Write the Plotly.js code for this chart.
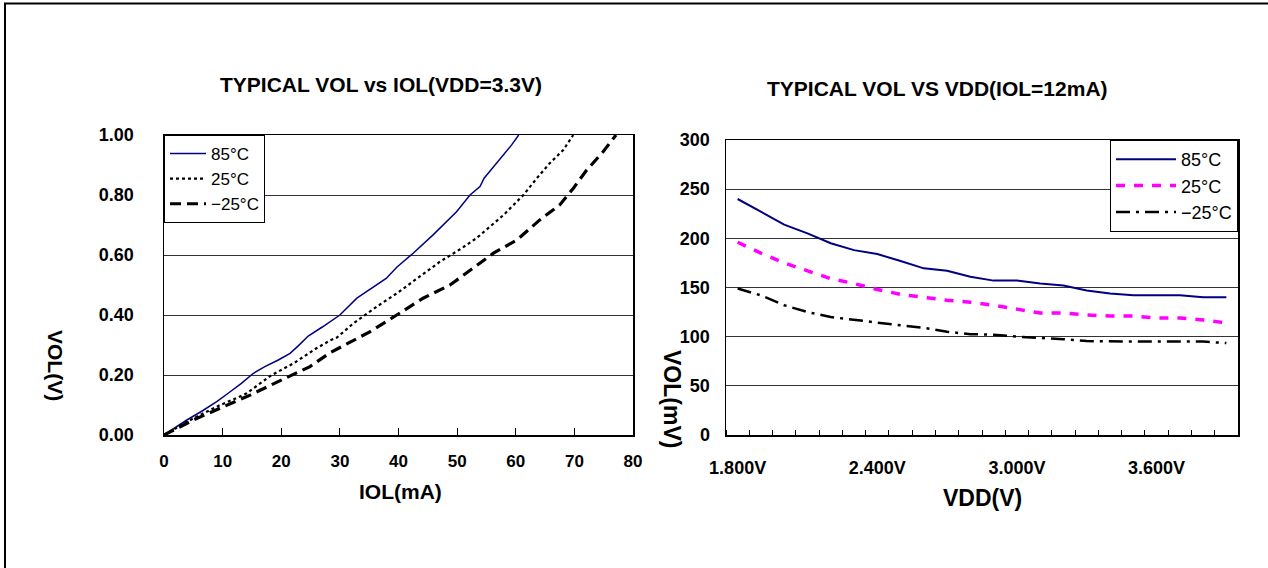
<!DOCTYPE html>
<html>
<head>
<meta charset="utf-8">
<script src="https://cdn.plot.ly/plotly-3.0.1.min.js"></script>
<style>html,body{margin:0;padding:0;background:#fff;}#chart{width:1268px;height:568px;}</style>
</head>
<body>
<div id="chart"></div>
<script>
// ---- Left chart: VOL vs IOL (VDD=3.3V) ----
const iol85 = [0, 1.5, 3.9, 6.5, 9.0, 11, 13.2, 15.2, 17.2, 19.5, 21.5, 22.9, 24.6, 27, 30, 32.9, 35.5, 37.9, 39.7, 42.5, 45.9, 49.9, 52.2, 53.9, 54.6, 56.7, 57.9, 59.3, 60.5];
const vol85 = [0, 0.02, 0.05, 0.08, 0.111, 0.14, 0.172, 0.205, 0.228, 0.25, 0.272, 0.297, 0.33, 0.36, 0.40, 0.456, 0.49, 0.522, 0.559, 0.606, 0.667, 0.744, 0.8, 0.828, 0.856, 0.906, 0.933, 0.967, 1.0];
const iol25 = [0, 3.9, 6.5, 9.6, 12, 14.1, 16.4, 18.4, 22.1, 26.0, 28.3, 29.5, 32.3, 36.3, 39.7, 43.1, 47.1, 50.5, 53.3, 57.9, 61.3, 63.6, 65.8, 68.1, 69.8];
const vol25 = [0, 0.044, 0.07, 0.1, 0.12, 0.139, 0.172, 0.2, 0.239, 0.289, 0.315, 0.325, 0.372, 0.428, 0.472, 0.522, 0.578, 0.619, 0.656, 0.733, 0.8, 0.856, 0.906, 0.95, 1.0];
const iolM25 = [0, 5.0, 10.1, 14.7, 20.0, 24.9, 28.3, 30.6, 35.1, 39.7, 44.2, 48.8, 52.2, 56.2, 60.2, 64.1, 67.5, 69.8, 72.1, 74.9, 77.1];
const volM25 = [0, 0.05, 0.094, 0.133, 0.183, 0.228, 0.274, 0.297, 0.344, 0.4, 0.456, 0.5, 0.55, 0.606, 0.65, 0.717, 0.767, 0.822, 0.883, 0.944, 1.0];

// ---- Right chart: VOL vs VDD (IOL=12mA) ----
const vdd = [1.8, 1.9, 2.0, 2.1, 2.2, 2.3, 2.4, 2.5, 2.6, 2.7, 2.8, 2.9, 3.0, 3.1, 3.2, 3.3, 3.4, 3.5, 3.6, 3.7, 3.8, 3.9];
const mv85 = [240, 227, 214, 205, 195, 188, 184, 177, 169.5, 167, 161, 157, 157, 154, 152, 147, 144, 142, 142, 142, 140, 140];
const mv25 = [196, 185, 175, 167, 159, 154, 148, 143, 140, 137, 135, 132, 128, 124, 124, 122, 121, 121, 119, 119, 117, 114];
const mvM25 = [149, 142, 132, 125, 120, 117, 114, 111.5, 109, 105, 102.5, 102, 100, 99, 97.5, 95.5, 95, 95, 95, 95, 95, 93.5];
const vddTickVals = [1.8, 2.4, 3.0, 3.6];
const vddTickText = ['1.800V', '2.400V', '3.000V', '3.600V'];

const seriesNames = ['85°C', '25°C', '\u221225°C'];

const FONT = 'Liberation Sans, Arial, sans-serif';
const W = 1268, H = 568;
const px = v => v / W;
const py = v => 1 - v / H;

const traces = [
  {x: iol85, y: vol85, name: seriesNames[0], mode: 'lines', line: {color: '#000080', width: 1.5}, xaxis: 'x', yaxis: 'y', legend: 'legend'},
  {x: iol25, y: vol25, name: seriesNames[1], mode: 'lines', line: {color: '#000', width: 2.2, dash: 'dot'}, xaxis: 'x', yaxis: 'y', legend: 'legend'},
  {x: iolM25, y: volM25, name: seriesNames[2], mode: 'lines', line: {color: '#000', width: 3.2, dash: '11px,6px'}, xaxis: 'x', yaxis: 'y', legend: 'legend'},
  {x: vdd, y: mv85, name: seriesNames[0], mode: 'lines', line: {color: '#000080', width: 2}, xaxis: 'x2', yaxis: 'y2', legend: 'legend2'},
  {x: vdd, y: mv25, name: seriesNames[1], mode: 'lines', line: {color: '#FF00FF', width: 3.5, dash: '9px,9px'}, xaxis: 'x2', yaxis: 'y2', legend: 'legend2'},
  {x: vdd, y: mvM25, name: seriesNames[2], mode: 'lines', line: {color: '#000', width: 2.5, dash: '14px,6px,3px,6px'}, xaxis: 'x2', yaxis: 'y2', legend: 'legend2'}
];

const axisCommon = {showline: true, mirror: true, linecolor: '#000', linewidth: 1.5, zeroline: false, fixedrange: true};

function label(text, x, y, size, angle) {
  return {text: text, x: px(x), y: py(y), xref: 'paper', yref: 'paper', xanchor: 'center', yanchor: 'middle',
          showarrow: false, textangle: angle || 0, font: {family: FONT, size: size, color: '#000', weight: 'bold'}};
}

const layout = {
  width: W, height: H,
  margin: {l: 0, r: 0, t: 0, b: 0, pad: 0},
  paper_bgcolor: '#fff', plot_bgcolor: '#fff',
  font: {family: FONT, color: '#000'},
  showlegend: true,
  xaxis: Object.assign({}, axisCommon, {
    domain: [px(164), px(633)], anchor: 'y', range: [0, 80], dtick: 10, tick0: 0,
    ticks: 'inside', ticklen: 7, tickcolor: '#000', showgrid: false,
    tickfont: {family: FONT, size: 17, color: '#000', weight: 'bold'}, ticklabelstandoff: 10
  }),
  yaxis: Object.assign({}, axisCommon, {
    domain: [py(435), py(135)], anchor: 'x', range: [0, 1], dtick: 0.2, tick0: 0, tickformat: '.2f',
    ticks: '', showgrid: true, gridcolor: '#333', gridwidth: 1,
    tickfont: {family: FONT, size: 18, color: '#000', weight: 'bold'}, ticklabelstandoff: 25
  }),
  xaxis2: Object.assign({}, axisCommon, {
    domain: [px(726), px(1238)], anchor: 'y2', range: [1.75, 3.95],
    tickmode: 'array', tickvals: vddTickVals, ticktext: vddTickText,
    ticks: '', showgrid: false,
    minor: {ticks: 'inside', ticklen: 5, tickcolor: '#000', tick0: 1.75, dtick: 0.1, showgrid: false},
    tickfont: {family: FONT, size: 18, color: '#000', weight: 'bold'}, ticklabelstandoff: 16
  }),
  yaxis2: Object.assign({}, axisCommon, {
    domain: [py(435), py(140)], anchor: 'x2', range: [0, 300], dtick: 50, tick0: 0,
    ticks: '', showgrid: true, gridcolor: '#333', gridwidth: 1,
    tickfont: {family: FONT, size: 18, color: '#000', weight: 'bold'}, ticklabelstandoff: 11
  }),
  legend: {
    x: px(164), y: py(135), xanchor: 'left', yanchor: 'top', xref: 'paper', yref: 'paper',
    bgcolor: '#fff', bordercolor: '#000', borderwidth: 1,
    font: {family: FONT, size: 17, color: '#000'},
    itemwidth: 36, tracegroupgap: 0
  },
  legend2: {
    x: px(1238), y: py(140), xanchor: 'right', yanchor: 'top', xref: 'paper', yref: 'paper',
    bgcolor: '#fff', bordercolor: '#000', borderwidth: 1,
    font: {family: FONT, size: 18, color: '#000'},
    itemwidth: 60, tracegroupgap: 0
  },
  annotations: [
    label('TYPICAL VOL vs IOL(VDD=3.3V)', 381, 85, 21),
    label('TYPICAL VOL VS VDD(IOL=12mA)', 937, 88, 21),
    label('IOL(mA)', 401, 491, 21),
    label('VDD(V)', 982, 498, 23),
    label('VOL(V)', 56, 365, 21, 90),
    label('VOL(mV)', 672, 399, 23, 90)
  ],
  shapes: [
    {type: 'line', xref: 'paper', yref: 'paper', x0: px(5), x1: px(5), y0: 0, y1: py(3.5), line: {color: '#000', width: 2}},
    {type: 'line', xref: 'paper', yref: 'paper', x0: px(4), x1: 1, y0: py(3.5), y1: py(3.5), line: {color: '#000', width: 2}}
  ]
};

Plotly.newPlot('chart', traces, layout, {displayModeBar: false, staticPlot: true});
</script>
</body>
</html>
